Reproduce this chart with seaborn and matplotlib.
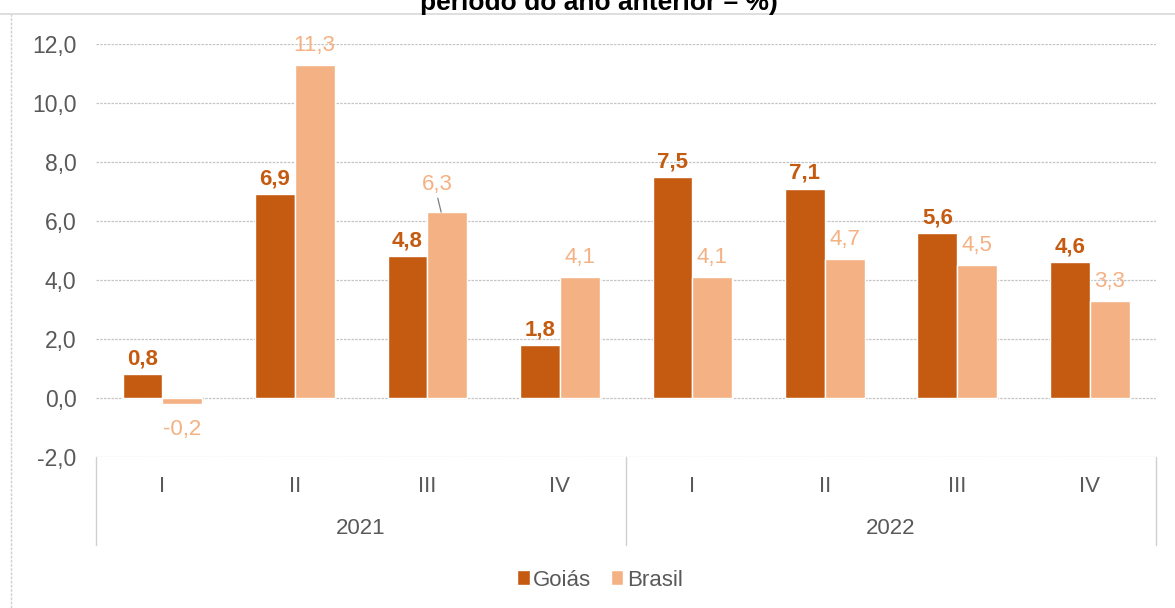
import matplotlib
matplotlib.use("Agg")
import matplotlib.pyplot as plt
import matplotlib.transforms as mtransforms
from matplotlib.lines import Line2D
from matplotlib.patches import Patch
import seaborn as sns
import pandas as pd

# ---- data ----
quarters = ["I", "II", "III", "IV", "I", "II", "III", "IV"]
years = ["2021", "2022"]
periods = ["2021 I", "2021 II", "2021 III", "2021 IV", "2022 I", "2022 II", "2022 III", "2022 IV"]
goias = [0.8, 6.9, 4.8, 1.8, 7.5, 7.1, 5.6, 4.6]
brasil = [-0.2, 11.3, 6.3, 4.1, 4.1, 4.7, 4.5, 3.3]
series = ["Goiás", "Brasil"]
yticks = [-2.0, 0.0, 2.0, 4.0, 6.0, 8.0, 10.0, 12.0]
title_text = "período do ano anterior – %)"

c_goias = "#C55A11"
c_brasil = "#F4B183"
grey = "#595959"

df = pd.DataFrame({
    "periodo": periods * 2,
    "serie": [series[0]] * len(goias) + [series[1]] * len(brasil),
    "valor": goias + brasil,
})

sns.set_theme(style="white")
plt.rcParams["font.family"] = ["Liberation Sans", "DejaVu Sans"]

W, H = 1175, 608
fig = plt.figure(figsize=(W / 100, H / 100), dpi=100)
ax = fig.add_axes([96 / W, 1 - 457 / H, (1156 - 96) / W, (457 - 44) / H])

sns.barplot(data=df, x="periodo", y="valor", hue="serie", order=periods,
            hue_order=series, palette=[c_goias, c_brasil], width=0.6,
            gap=0, ax=ax, legend=False, saturation=1)

ax.set_ylim(-2, 12)
ax.set_xlim(-0.5, len(periods) - 0.5)
ax.set_yticks(yticks)
ax.set_yticklabels([f"{v:.1f}".replace(".", ",") for v in yticks],
                   color=grey, fontsize=16.5)
ax.set_xticks([])
ax.set_xlabel("")
ax.set_ylabel("")
ax.tick_params(axis="y", length=0, pad=14)
for s in ["top", "right", "left", "bottom"]:
    ax.spines[s].set_visible(False)
ax.yaxis.grid(True, color="#C4C4C4", linestyle=(0, (2, 1)), linewidth=0.9)
ax.set_axisbelow(True)

# ---- data labels ----
containers = ax.containers
for ci, (cont, vals) in enumerate(zip(containers, [goias, brasil])):
    for i, (bar, v) in enumerate(zip(cont, vals)):
        x = bar.get_x() + bar.get_width() / 2
        txt = f"{v:.1f}".replace(".", ",")
        if ci == 0:
            ax.annotate(txt, (x, v), xytext=(0, 7), textcoords="offset points",
                        ha="center", va="baseline", color=c_goias,
                        fontsize=16, fontweight="bold")
        else:
            if v < 0:
                ax.annotate(txt, (x, v), xytext=(0, -11), textcoords="offset points",
                            ha="center", va="top", color=c_brasil, fontsize=16)
            elif i == 2:
                ax.annotate(txt, (x - 0.045, v), xytext=(-3, 16), textcoords="offset points",
                            ha="center", va="baseline", color=c_brasil, fontsize=16,
                            arrowprops=dict(arrowstyle="-", color="#7F7F7F", lw=0.9,
                                            shrinkA=0, shrinkB=0, relpos=(0.5, 0)))
            else:
                ax.annotate(txt, (x, v), xytext=(0, 10), textcoords="offset points",
                            ha="center", va="baseline", color=c_brasil, fontsize=16)

# ---- category axis ----
trans = mtransforms.blended_transform_factory(ax.transData, fig.transFigure)
for i, q in enumerate(quarters):
    ax.text(i, 1 - 486 / H, q, transform=trans, ha="center", va="center",
            color=grey, fontsize=16, clip_on=False)
for k, y in enumerate(years):
    ax.text(1.5 + 4 * k, 1 - 528 / H, y, transform=trans, ha="center", va="center",
            color=grey, fontsize=16, clip_on=False)
for xs in [-0.5, 3.5, 7.5]:
    ax.add_line(Line2D([xs, xs], [1 - 457 / H, 1 - 545 / H], transform=trans,
                       color="#D0D0D0", lw=1, clip_on=False))

# ---- frame pieces ----
fig.add_artist(Line2D([0, 1], [1 - 13.5 / H, 1 - 13.5 / H], transform=fig.transFigure,
                      color="#D9D9D9", lw=1.2))
fig.add_artist(Line2D([11 / W, 11 / W], [0, 1 - 13.5 / H], transform=fig.transFigure,
                      color="#D0D0D0", lw=1, linestyle=(0, (2, 1))))

# ---- title (partly cut) ----
fig.text(599 / W, 1 - 10 / H, title_text, ha="center", va="baseline",
         fontsize=19, fontweight="bold", color="black")

# ---- legend ----
handles = [Patch(facecolor=c_goias, label=series[0]),
           Patch(facecolor=c_brasil, label=series[1])]
leg = fig.legend(handles=handles, loc="center", bbox_to_anchor=(600 / W, 1 - 580 / H),
                 ncol=2, frameon=False, fontsize=16, handlelength=0.55,
                 handleheight=0.65, handletextpad=0.15, columnspacing=0.9,
                 borderpad=0)
for t in leg.get_texts():
    t.set_color(grey)

fig.savefig("out.png", dpi=100, facecolor="white")
